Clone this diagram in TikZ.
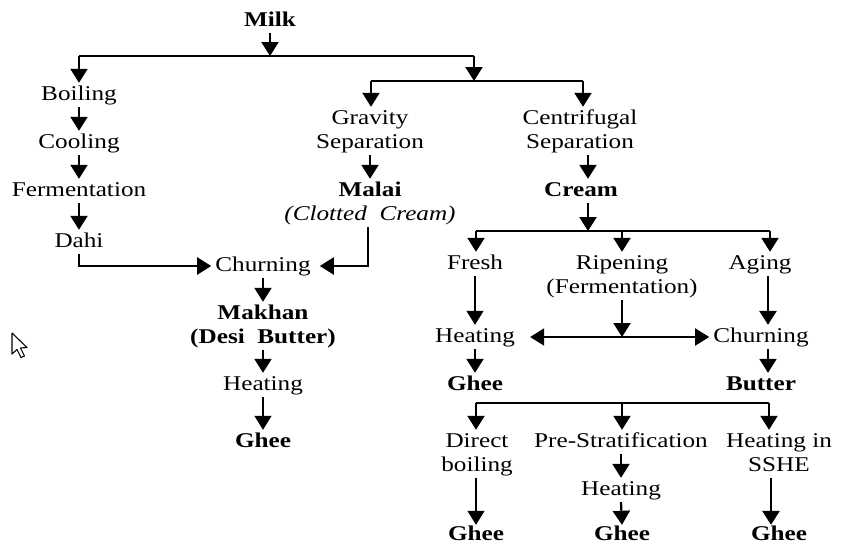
\documentclass[tikz,border=0pt]{standalone}
\usepackage{fontspec}
\setmainfont{Liberation Serif}[FakeStretch=1.2]
\usetikzlibrary{arrows.meta}
\begin{document}
\begin{tikzpicture}[x=1pt,y=-1pt,
  t/.style={font=\fontsize{21}{24}\selectfont, inner xsep=4pt, inner ysep=3pt, text height=14pt, text depth=4pt, align=center},
  b/.style={t, font=\fontsize{21}{24}\selectfont\bfseries},
  two/.style={text height=38pt},
  lastrow/.style={text depth=1pt, inner ysep=1pt},
  ln/.style={line width=1.6pt},
  arr/.style={line width=2.2pt, -{Triangle[width=17pt,length=14pt]}},
  thinarr/.style={arr, line width=1.2pt},
  thickarr/.style={arr, line width=2.8pt},
  dbl/.style={line width=1.6pt, {Triangle[width=17pt,length=14pt]}-{Triangle[width=17pt,length=14pt]}}]
\fill[white] (0,0) rectangle (843,544);
\useasboundingbox (0,0) rectangle (843,544);

% nodes
\node[b] (milk) at (270,21) {Milk};
\node[t] (boil) at (79,95) {Boiling};
\node[t] (cool) at (79,143) {Cooling};
\node[t] (ferm) at (79,191) {Fermentation};
\node[t] (dahi) at (79,242) {Dahi};
\node[t,two] (grav) at (370,131) {Gravity\\Separation};
\node[t,two] (centr) at (580,131) {Centrifugal\\Separation};
\node[t,two] (malai) at (370,203) {\textbf{Malai}\\\textit{(Clotted\ \ Cream)}};
\node[b] (cream) at (581,191) {Cream};
\node[t] (churn1) at (263,266) {Churning};
\node[b,two] (makhan) at (263,326) {Makhan\\(Desi\ \ Butter)};
\node[t] (heat1) at (263,385) {Heating};
\node[b] (ghee1) at (263,442) {Ghee};
\node[t] (fresh) at (475,264) {Fresh};
\node[t,two] (ripen) at (622,276) {Ripening\\(Fermentation)};
\node[t] (aging) at (760,264) {Aging};
\node[t] (heat2) at (475,337) {Heating};
\node[t] (churn2) at (761,337) {Churning};
\node[b] (ghee2) at (475,385) {Ghee};
\node[b] (butter) at (761,385) {Butter};
\node[t,two] (direct) at (477,454) {Direct\\boiling};
\node[t] (prestrat) at (621,442) {Pre-Stratification};
\node[t,two] (heatss) at (779,454) {Heating in\\SSHE};
\node[t] (heat3) at (621,490) {Heating};
\node[b,lastrow] (ghee3) at (476,533.5) {Ghee};
\node[b,lastrow] (ghee4) at (622,533.5) {Ghee};
\node[b,lastrow] (ghee5) at (779,533.5) {Ghee};

% junction coordinates
\coordinate (jL) at (79,56);
\coordinate (jR) at (474,56);
\coordinate (kL) at (371,81);
\coordinate (kR) at (583,81);
\coordinate (mL) at (476,231);
\coordinate (mM) at (622,231);
\coordinate (mR) at (770,231);
\coordinate (nL) at (476,403);
\coordinate (nM) at (622,403);
\coordinate (nR) at (769,403);

% top
\draw[ln] (jL) -- (jR);
\draw[arr] (milk.south) -- (milk.south |- jL);
\draw[arr] (jL) -- (jL |- boil.north);
\draw[ln] (kL) -- (kR);
\draw[arr] (jR) -- (jR |- kL);
\draw[arr] (kL) -- (kL |- grav.north);
\draw[arr] (kR) -- (kR |- centr.north);

% left column
\draw[arr] (boil.south) -- (cool.north);
\draw[arr] (cool.south) -- (ferm.north);
\draw[arr] (ferm.south) -- (dahi.north);
\draw[arr] (dahi.south) |- (churn1.west);

% middle
\draw[arr] (grav.south) -- (malai.north);
\draw[arr, shorten >=5pt] ([xshift=-2pt]malai.south) |- (churn1.east);
\draw[arr] (churn1.south) -- (makhan.north);
\draw[arr] (makhan.south) -- (heat1.north);
\draw[thinarr] (heat1.south) -- (ghee1.north);

% right
\draw[arr] ([xshift=8pt]centr.south) -- ([xshift=7pt]cream.north);
\draw[ln] (mL) -- (mR);
\draw[arr] ([xshift=7pt]cream.south) -- ([xshift=7pt]cream.south |- mL);
\draw[arr] (mL) -- (mL |- fresh.north);
\draw[arr] (mM) -- (mM |- ripen.north);
\draw[arr] (mR) -- (mR |- aging.north);
\draw[thinarr] (fresh.south) -- (heat2.north);
\draw[thickarr] ([xshift=8pt]aging.south) -- ([xshift=7pt]churn2.north);
\draw[arr] (ripen.south) -- (ripen.south |- heat2.east);
\draw[dbl, shorten <=11pt] (heat2.east) -- (churn2.west);
\draw[arr] (heat2.south) -- (ghee2.north);
\draw[arr] ([xshift=7pt]churn2.south) -- ([xshift=7pt]butter.north);

% bottom
\draw[ln] (nL) -- (nR);
\draw[arr] (nL) -- (nL |- direct.north);
\draw[arr] (nM) -- (nM |- prestrat.north);
\draw[arr] (nR) -- (nR |- heatss.north);
\draw[thinarr] ([xshift=-1pt]direct.south) -- ([xshift=-1pt]direct.south |- ghee3.north);
\draw[arr] (prestrat.south) -- (heat3.north);
\draw[arr] (heat3.south) -- (ghee4.north);
\draw[thickarr] ([xshift=-8pt]heatss.south) -- ([xshift=-8pt]heatss.south |- ghee5.north);

% mouse pointer
\draw[line width=1.1pt, fill=white, line join=round] (12,333) -- (12,354) -- (17,349.5) -- (21,357.5) -- (24.5,356) -- (20.5,348) -- (27,347.5) -- cycle;
\end{tikzpicture}
\end{document}
